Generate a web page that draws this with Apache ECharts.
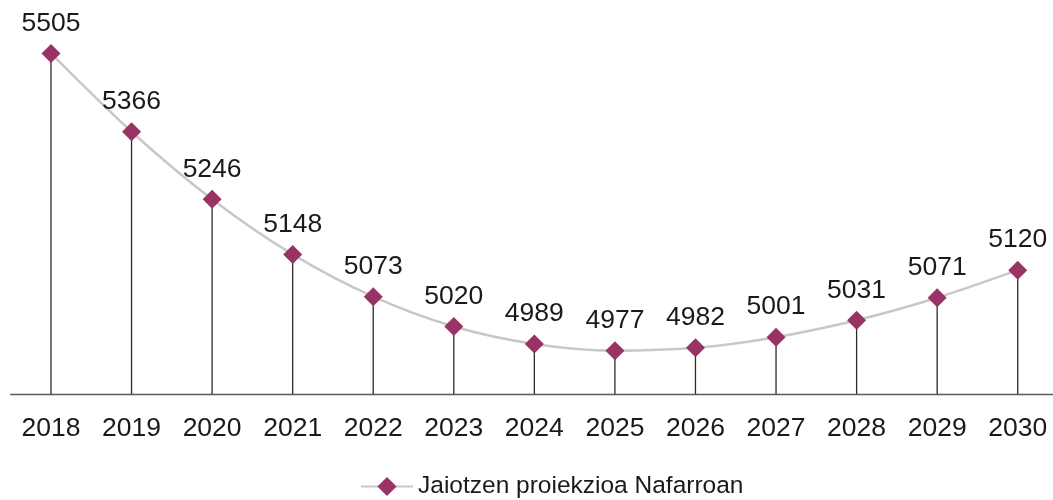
<!DOCTYPE html>
<html>
<head>
<meta charset="utf-8">
<script src="https://cdn.jsdelivr.net/npm/echarts@6/dist/echarts.min.js"></script>
<style>
  html, body { margin: 0; padding: 0; background: #fff; }
  #chart { width: 1053px; height: 500px; }
</style>
</head>
<body>
<div id="chart"></div>
<script>
// data
const years = ['2018', '2019', '2020', '2021', '2022', '2023', '2024', '2025', '2026', '2027', '2028', '2029', '2030']
const births = [5505, 5366, 5246, 5148, 5073, 5020, 4989, 4977, 4982, 5001, 5031, 5071, 5120]
const seriesName = 'Jaiotzen proiekzioa Nafarroan'

const markerColor = '#993366'
const lineColor = '#c8c8c8'
const font = 'Arial, "Liberation Sans", sans-serif'

const chart = echarts.init(document.getElementById('chart'))
chart.setOption({
  animation: false,
  // the axis runs a little past the right edge in the original
  grid: { left: 10.7, width: 1047.3, top: 0, bottom: 106, outerBoundsMode: 'none' },
  legend: {
    data: [seriesName],
    bottom: 1,
    left: 360,
    padding: 0,
    itemWidth: 52,
    itemHeight: 24,
    itemGap: 10,
    textStyle: { fontFamily: font, fontSize: 24.5, color: '#1a1a1a' },
  },
  xAxis: {
    type: 'category',
    data: years,
    boundaryGap: true,
    axisLine: { lineStyle: { color: '#595959', width: 1.3 } },
    axisTick: { show: false },
    axisLabel: { fontFamily: font, fontSize: 26.5, color: '#1a1a1a', margin: 21 },
  },
  yAxis: {
    type: 'value',
    min: 4900,
    max: 5600,
    show: false,
    splitLine: { show: false },
  },
  series: [
    {
      // drop lines from each point down to the axis
      name: 'drop',
      type: 'bar',
      data: births,
      barWidth: 1.3,
      silent: true,
      z: 1,
      itemStyle: { color: '#2b2b2b' },
    },
    {
      name: seriesName,
      type: 'line',
      data: births,
      smooth: 0.3,
      z: 3,
      symbol: 'diamond',
      symbolSize: 19,
      lineStyle: { color: lineColor, width: 2.5 },
      itemStyle: { color: markerColor },
      label: {
        show: true,
        position: 'top',
        distance: 7,
        fontFamily: font,
        fontSize: 26.5,
        color: '#1a1a1a',
      },
    },
  ],
})
</script>
</body>
</html>
